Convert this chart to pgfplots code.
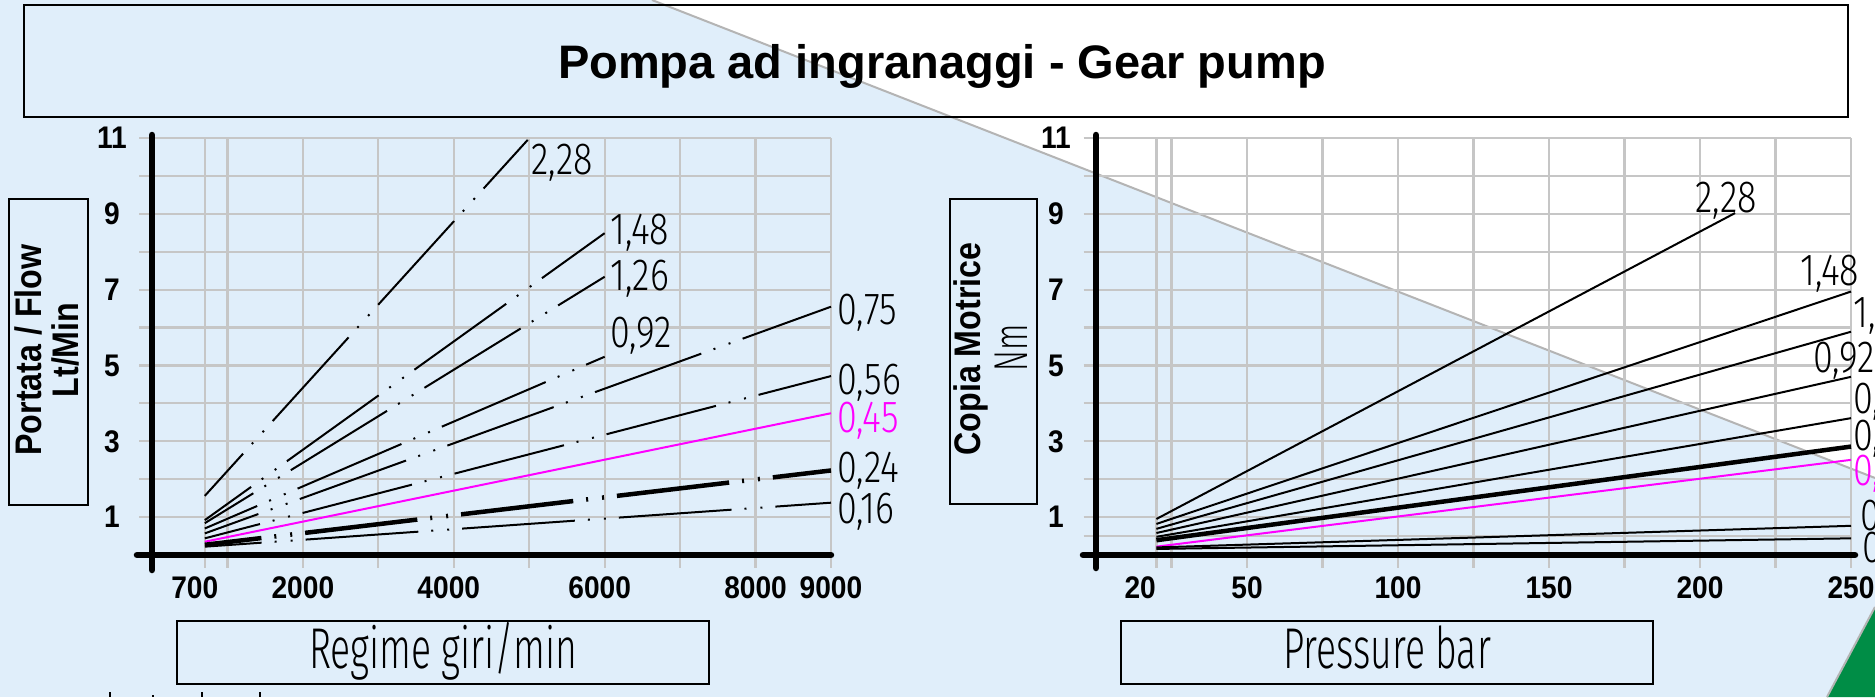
\documentclass[border=0pt]{standalone}
\usepackage{fontspec}
\usepackage{pgfplots}
\pgfplotsset{compat=1.18}
\setmainfont{Liberation Sans}
\newfontfamily\lsb[FakeStretch=0.9]{Liberation Sans}
\newfontfamily\lsbl[FakeStretch=0.87]{Liberation Sans}
\newfontfamily\thin[FakeStretch=0.8]{Fira Sans Light}
\newfontfamily\thinn[FakeStretch=0.65]{Fira Sans Light}
\definecolor{bgblue}{RGB}{224,238,250}
\definecolor{gridgray}{RGB}{198,198,198}
\definecolor{diag}{RGB}{180,180,180}
\definecolor{mag}{RGB}{255,0,255}
\definecolor{grn}{RGB}{0,141,70}
\tikzset{
  dd/.style={dash pattern=on 45.2pt off 5.2pt on 0.8pt off 5.6pt on 0.8pt off 5.2pt, dash phase=22.4pt},
  thinl/.style={black, line width=0.8pt},
  thickl/.style={black, line width=1.8pt},
  lab/.style={font=\thin\fontsize{18}{19}\selectfont, inner sep=0pt, anchor=base west},
}
\pgfplotsset{
  common/.style={
    scale only axis, height=166.8pt, ymin=0, ymax=11,
    axis line style={draw=none},
    tick pos=left, tick align=outside, major tick length=5pt,
    tick style={draw=gridgray, line width=0.9pt},
    grid=major, major grid style={draw=gridgray, line width=0.9pt},
    clip=false, scaled ticks=false,
    tick label style={font=\lsb\bfseries\fontsize{12.5}{13}\selectfont},
    yticklabel style={anchor=center, xshift=-11pt},
  }
}
\begin{document}
\begin{tikzpicture}
\useasboundingbox (0,0) rectangle (750pt,-278.8pt);
\clip (0,0) rectangle (750pt,-278.8pt);
\begin{scope}[x=0.4pt,y=-0.4pt]
  \fill[bgblue] (0,0) rectangle (1875,697);
  \fill[white] (652,0) -- (1875,0) -- (1875,478) -- cycle;
  \draw[diag, line width=0.8pt] (652,0) -- (1875,478);
  \fill[grn] (1827,697) -- (1875,607) -- (1875,697) -- cycle;
  \draw[diag, line width=0.8pt] (1827,697) -- (1875,607);
  % bottom fragments
  \fill[black] (109,692) rectangle (111,697);
  \fill[black] (152,695) rectangle (154,697);
  \fill[black] (201,692) rectangle (203,697);
  \fill[black] (259,692) rectangle (261,697);
\end{scope}

% ---------------- left chart: flow ----------------
\begin{axis}[common, at={(60.8pt,-222pt)}, anchor=south west, width=271.6pt,
  xmin=0, xmax=9000,
  xtick={700,1000,2000,3000,4000,5000,6000,7000,8000,9000},
  xticklabels={700\kern8pt,,2000,,4000\kern4pt,,6000\kern4pt,,8000,9000},
  ytick={1,2,3,4,5,6,7,8,9,10,11}, yticklabels={1,,3,,5,,7,,9,,11}]
  \addplot[thinl, dd] coordinates {(700,1.56) (4980,10.95)};
  \addplot[thinl, dd] coordinates {(700,0.92) (6000,8.49)};
  \addplot[thinl, dd] coordinates {(700,0.84) (6000,7.34)};
  \addplot[thinl, dd] coordinates {(700,0.70) (6000,5.23)};
  \addplot[thinl, dd] coordinates {(700,0.57) (9000,6.55)};
  \addplot[thinl, dd] coordinates {(700,0.44) (9000,4.72)};
  \addplot[mag, line width=0.8pt] coordinates {(700,0.35) (9000,3.74)};
  \addplot[thickl, dd] coordinates {(700,0.27) (9000,2.23)};
  \addplot[thinl, dd] coordinates {(700,0.22) (9000,1.38)};
  \draw[black, line width=2.6pt, line cap=round] ([xshift=-6pt]axis cs:0,0) -- (axis cs:9000,0);
  \draw[black, line width=2.6pt, line cap=round] ([yshift=-6pt]axis cs:0,0) -- ([yshift=1.2pt]axis cs:0,11);
\end{axis}

% ---------------- right chart: torque ----------------
\begin{axis}[common, at={(438.4pt,-222pt)}, anchor=south west, width=302pt,
  xmin=0, xmax=250,
  xtick={20,25,50,75,100,125,150,175,200,225,250},
  xticklabels={20\kern13pt,,50,,100,,150,,200,,250},
  ytick={0.5,1,2,3,4,5,6,7,8,9,10,11}, yticklabels={,1,,3,,5,,7,,9,,11}]
  \addplot[thinl] coordinates {(20,0.95) (211.6,9.02)};
  \addplot[thinl] coordinates {(20,0.82) (250,6.95)};
  \addplot[thinl] coordinates {(20,0.69) (250,5.89)};
  \addplot[thinl] coordinates {(20,0.58) (250,4.70)};
  \addplot[thinl] coordinates {(20,0.48) (250,3.61)};
  \addplot[thickl] coordinates {(20,0.39) (250,2.86)};
  \addplot[mag, line width=0.8pt] coordinates {(20,0.22) (250,2.51)};
  \addplot[thinl] coordinates {(20,0.20) (250,0.77)};
  \addplot[thinl] coordinates {(20,0.16) (250,0.44)};
  \draw[black, line width=2.6pt, line cap=round] ([xshift=-5.2pt]axis cs:0,0) -- ([xshift=1.6pt]axis cs:250,0);
  \draw[black, line width=2.6pt, line cap=round] ([yshift=-5.2pt]axis cs:0,0) -- ([yshift=1.2pt]axis cs:0,11);
\end{axis}

\begin{scope}[x=0.4pt,y=-0.4pt]
  % title
  \draw[black, line width=1.1pt] (24,5) rectangle (1848,117);
  \node[anchor=base, inner sep=0pt, font=\bfseries\fontsize{18.8}{20}\selectfont] at (942,78) {Pompa ad ingranaggi - Gear pump};
  % y label boxes
  \draw[black, line width=0.8pt] (9,199) rectangle (88,505);
  \node[rotate=90, anchor=base, inner sep=0pt, font=\lsbl\bfseries\fontsize{14.8}{16}\selectfont] at (42,350) {Portata / Flow};
  \node[rotate=90, anchor=base, inner sep=0pt, font=\lsbl\bfseries\fontsize{14.8}{16}\selectfont] at (79,350) {Lt/Min};
  \draw[black, line width=0.8pt] (950,199) rectangle (1037,504);
  \node[rotate=90, anchor=base, inner sep=0pt, font=\lsbl\bfseries\fontsize{14.8}{16}\selectfont] at (981,349) {Copia Motrice};
  \node[rotate=90, anchor=base, inner sep=0pt, font=\thinn\fontsize{19}{20}\selectfont] at (1028,348) {Nm};
  % x label boxes
  \draw[black, line width=0.8pt] (177,621) rectangle (709,684);
  \node[anchor=base, inner sep=0pt, font=\thinn\fontsize{23}{24}\selectfont] at (443,668) {Regime giri/min};
  \draw[black, line width=0.8pt] (1121,621) rectangle (1653,684);
  \node[anchor=base, inner sep=0pt, font=\thinn\fontsize{23}{24}\selectfont] at (1387,668) {Pressure bar};
  % left curve labels
  \node[lab] at (531,174) {2,28};
  \node[lab] at (610,244) {1,48};
  \node[lab] at (610,290) {1,26};
  \node[lab] at (610,347) {0,92};
  \node[lab] at (837,324) {0,75};
  \node[lab] at (837,394) {0,56};
  \node[lab, text=mag] at (837,432) {0,45};
  \node[lab] at (837,482) {0,24};
  \node[lab] at (837,523) {0,16};
  % right curve labels
  \node[lab] at (1695,212) {2,28};
  \node[lab] at (1800,285) {1,48};
  \node[lab] at (1853,327) {1,26};
  \node[lab] at (1813,372) {0,92};
  \node[lab] at (1853,413) {0,75};
  \node[lab] at (1853,450) {0,56};
  \node[lab, text=mag] at (1853,485) {0,45};
  \node[lab] at (1860,530) {0,24};
  \node[lab] at (1862,562) {0,16};
\end{scope}
\end{tikzpicture}
\end{document}
